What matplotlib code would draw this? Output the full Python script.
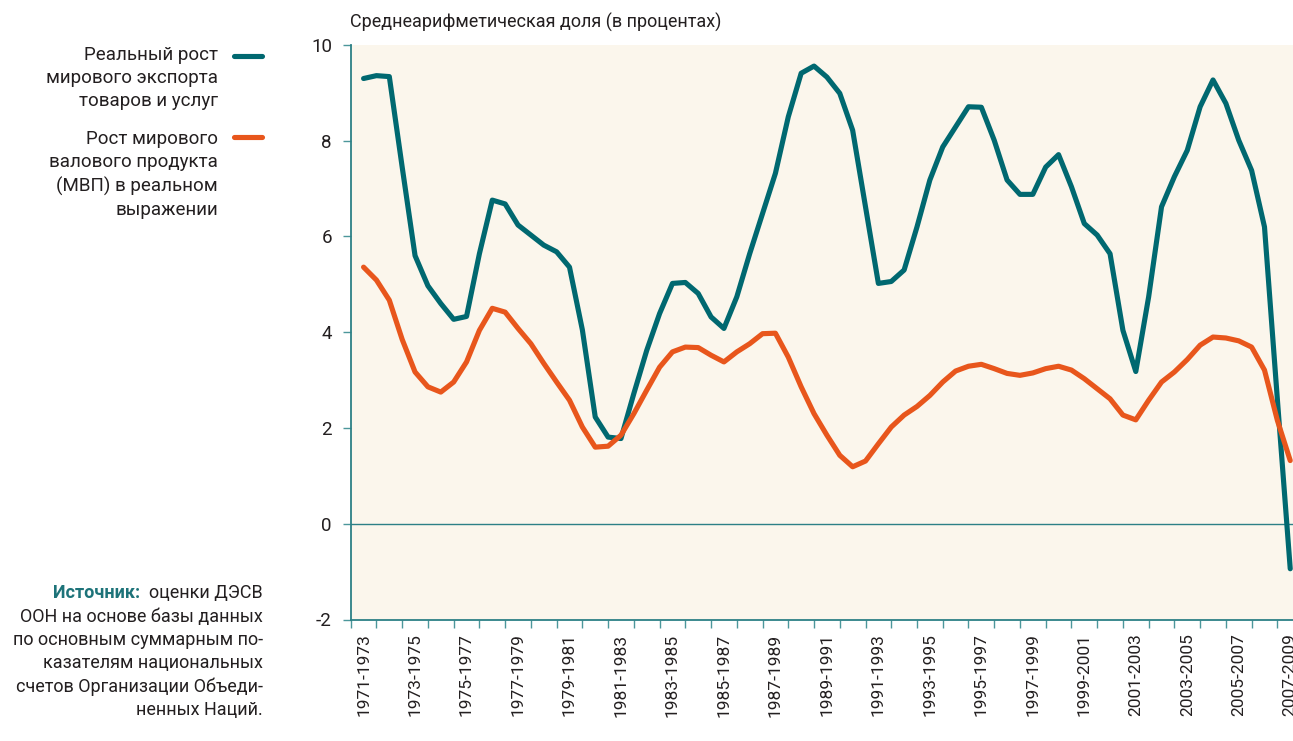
import numpy as np
import matplotlib.pyplot as plt
from matplotlib.lines import Line2D

plt.rcParams['font.family'] = ['Roboto', 'DejaVu Sans']
plt.rcParams['axes.unicode_minus'] = False

# подписи трехлетних периодов (каждый второй)
tick_labels = ['1971-1973', '1973-1975', '1975-1977', '1977-1979', '1979-1981',
               '1981-1983', '1983-1985', '1985-1987', '1987-1989', '1989-1991',
               '1991-1993', '1993-1995', '1995-1997', '1997-1999', '1999-2001',
               '2001-2003', '2003-2005', '2005-2007', '2007-2009']

# значения через каждые полгода, начиная с 1971-1973
export_growth = [9.30, 9.36, 9.34, 7.45, 5.60, 4.97, 4.60, 4.27, 4.33, 5.64,
                 6.76, 6.68, 6.24, 6.03, 5.82, 5.68, 5.36, 4.05, 2.23, 1.81,
                 1.78, 2.72, 3.62, 4.39, 5.02, 5.04, 4.81, 4.32, 4.08, 4.74,
                 5.64, 6.48, 7.32, 8.50, 9.41, 9.56, 9.33, 8.99, 8.22, 6.62,
                 5.02, 5.06, 5.30, 6.20, 7.18, 7.87, 8.29, 8.71, 8.70, 8.01,
                 7.18, 6.88, 6.88, 7.45, 7.71, 7.04, 6.27, 6.03, 5.64, 4.04,
                 3.18, 4.74, 6.62, 7.25, 7.80, 8.71, 9.27, 8.78, 8.01, 7.38,
                 6.20, 2.60, -0.94]
gdp_growth = [5.36, 5.09, 4.67, 3.85, 3.17, 2.86, 2.75, 2.96, 3.38, 4.04,
              4.50, 4.42, 4.08, 3.76, 3.35, 2.96, 2.58, 2.02, 1.60, 1.62,
              1.85, 2.30, 2.79, 3.27, 3.59, 3.69, 3.68, 3.52, 3.38, 3.59,
              3.76, 3.97, 3.98, 3.48, 2.86, 2.30, 1.85, 1.43, 1.19, 1.31,
              1.67, 2.02, 2.27, 2.45, 2.68, 2.96, 3.19, 3.29, 3.33, 3.24,
              3.14, 3.10, 3.15, 3.24, 3.29, 3.21, 3.03, 2.82, 2.61, 2.27,
              2.17, 2.58, 2.96, 3.17, 3.43, 3.73, 3.90, 3.88, 3.82, 3.69,
              3.21, 2.16, 1.32]

legend_labels = ['Реальный рост\nмирового экспорта\nтоваров и услуг',
                 'Рост мирового\nвалового продукта\n(МВП) в реальном\nвыражении']
source_head = 'Источник:'
source_first = 'оценки ДЭСВ'
source_rest = ('ООН на основе базы данных\nпо основным суммарным по-\n'
               'казателям национальных\nсчетов Организации Объеди-\nненных Наций.')

TEAL = '#006870'
ORANGE = '#E8561C'
AXC = '#2C8086'
W, H = 1293, 741

x = np.arange(len(export_growth)) * 0.5

fig = plt.figure(figsize=(W / 100, H / 100), dpi=100)
ax = fig.add_axes([350.7 / W, 1 - 619.5 / H, (1303.1 - 350.7) / W, 574.5 / H])
ax.set_facecolor('#FBF6EC')

ax.axhline(0, color=AXC, lw=1.0, zorder=1)
ax.plot(x, export_growth, color=TEAL, lw=3.7, solid_capstyle='round',
        solid_joinstyle='round', zorder=3)
ax.plot(x, gdp_growth, color=ORANGE, lw=3.7, solid_capstyle='round',
        solid_joinstyle='round', zorder=4)

ax.set_xlim(-0.5, 36.5)
ax.set_ylim(-2, 10)
for s in ['top', 'right']:
    ax.spines[s].set_visible(False)
for s in ['left', 'bottom']:
    ax.spines[s].set_color(AXC)
    ax.spines[s].set_linewidth(1.3)

ax.set_yticks([-2, 0, 2, 4, 6, 8, 10])
ax.tick_params(axis='y', length=6, width=1, color='#4C979B', pad=7.5,
               labelsize=13.5, labelcolor='#231F20')

ax.set_xticks(np.arange(-0.5, 37, 1))
ax.set_xticklabels([])
ax.tick_params(axis='x', which='major', length=6, width=1, color='#4C979B')
ax.set_xticks(np.arange(0, 37, 2), minor=True)
ax.set_xticklabels(tick_labels, minor=True)
ax.tick_params(axis='x', which='minor', length=0, pad=10, labelsize=12.5,
               labelrotation=90, labelcolor='#231F20')

fig.text(350 / W, 1 - 22 / H, 'Среднеарифметическая доля (в процентах)',
         ha='left', va='center', fontsize=13, color='#231F20')

# легенда слева
for lab, col, ty, ly in zip(legend_labels, [TEAL, ORANGE], [46, 130], [56, 137]):
    fig.text(218 / W, 1 - ty / H, lab, ha='right', va='top', fontsize=13.5,
             linespacing=1.36, color='#231F20')
    fig.add_artist(Line2D([234 / W, 262 / W], [1 - ly / H] * 2, color=col, lw=3.7,
                          solid_capstyle='round'))

# источник
first = fig.text(263 / W, 1 - 584 / H, source_first, ha='right', va='top',
                 fontsize=13, color='#231F20')
fig.text(263 / W, 1 - 608 / H, source_rest, ha='right', va='top',
         fontsize=13, linespacing=1.37, color='#231F20')
fig.canvas.draw()
bb = first.get_window_extent(fig.canvas.get_renderer())
fig.text((bb.x0 - 9) / W, 1 - 584 / H, source_head, ha='right', va='top',
         fontsize=13, fontweight='bold', color='#1D7379')

fig.savefig('out.png', dpi=100)
